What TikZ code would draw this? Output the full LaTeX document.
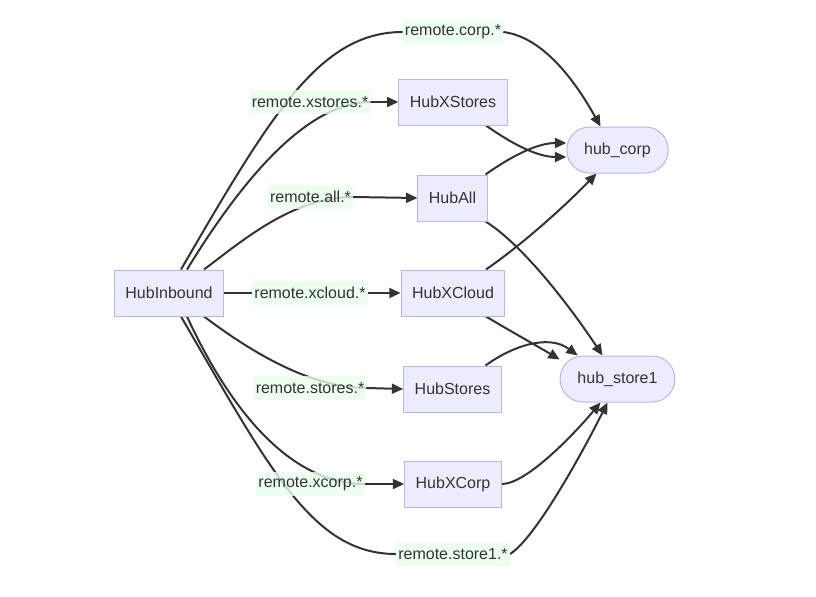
\documentclass[tikz,border=0pt]{standalone}
\usepackage{fontspec}
\setmainfont{Liberation Sans}
\usetikzlibrary{calc}
\usetikzlibrary{arrows.meta}
\definecolor{ink}{HTML}{333333}
\definecolor{boxfill}{HTML}{ECECFF}
\definecolor{boxline}{HTML}{BFB2EE}
\definecolor{labelfill}{HTML}{E8FFEE}
\pgfdeclarelayer{edges}
\pgfsetlayers{edges,main}

\begin{document}
\begin{tikzpicture}[x=0.75pt,y=-0.75pt,cap=round,>={Triangle[length=8.5pt,width=7.5pt]},
        font=\fontsize{12pt}{14.4pt}\selectfont,
        hub/.style={draw=boxline,fill=boxfill,text=ink,line width=0.75pt,minimum height=34.5pt,inner xsep=8.25pt},
        sink/.style={hub,rounded corners=17pt,inner xsep=13pt},
        route/.style={fill=labelfill,fill opacity=0.8,text opacity=1,text=ink,inner xsep=1.5pt,inner ysep=0pt,minimum height=18.5pt},
        link/.style={draw=ink,line width=1.5pt}]
        \useasboundingbox (0,0) rectangle (816,596);
        \node[hub] (in) at (169,293) {HubInbound};
        \node[hub] (xs) at (453,102) {HubXStores};
        \node[hub] (all) at (452.5,198) {HubAll};
        \node[hub] (xc) at (453,293) {HubXCloud};
        \node[hub] (st) at (452.5,389) {HubStores};
        \node[hub] (xcp) at (453,484) {HubXCorp};
        \node[sink] (corp) at (617.5,150) {hub\_corp};
        \node[sink] (s1) at (617.5,379) {hub\_store1};
        \node[route] (lcorp) at (453,32) {remote.corp.*};
        \node[route] (lxs) at (310,102) {remote.xstores.*};
        \node[route] (lall) at (310.5,197) {remote.all.*};
        \node[route] (lxc) at (310,293) {remote.xcloud.*};
        \node[route] (lst) at (310,388) {remote.stores.*};
        \node[route] (lxcp) at (310.5,484) {remote.xcorp.*};
        \node[route] (ls1) at (453,554) {remote.store1.*};
        \begin{pgfonlayer}{edges}
        \draw[link] ($(in.north)+(12,0)$) .. controls +(90,-155) and +(-83,0) .. (lcorp.west);
        \draw[link,->] (lcorp.east) .. controls +(40,5) and +(-25,-45) .. ($(corp.north)+(-17,0)$);
        \draw[link] ($(in.north)+(18,0)$) .. controls +(43,-70) and +(-71,0) .. (lxs.east);
        \draw[link,->] (lxs.east) -- (xs.west);
        \draw[link] ($(in.north)+(35,0)$) .. controls +(40,-30) and +(-60,0) .. (lall.east);
        \draw[link,->] (lall.east) -- (all.west);
        \draw[link] (in.east) -- (lxc.west);
        \draw[link,->] (lxc.east) -- (xc.west);
        \draw[link] ($(in.south)+(35,0)$) .. controls +(40,30) and +(-60,0) .. (lst.east);
        \draw[link,->] (lst.east) -- (st.west);
        \draw[link] ($(in.south)+(18,0)$) .. controls +(41,89) and +(-77,0) .. (lxcp.east);
        \draw[link,->] (lxcp.east) -- (xcp.west);
        \draw[link] ($(in.south)+(12,0)$) .. controls +(90,155) and +(-83,0) .. (ls1.west);
        \draw[link,->] (ls1.east) .. controls +(25,-15) and +(-25,50) .. ($(s1.south)+(-10,0)$);
        \draw[link,->] (xcp.east) .. controls +(25,0) and +(-25,30) .. ($(s1.south)+(-17,0)$);
        \draw[link,->] ($(xs.south)+(33,0)$) .. controls +(24,17) and +(-30,0) .. ($(corp.west)+(0,7)$);
        \draw[link,->] ($(all.north)+(33,0)$) .. controls +(24,-17) and +(-30,0) .. ($(corp.west)+(0,-7)$);
        \draw[link,->] ($(all.south)+(33,0)$) .. controls +(34,21) and +(-37,-56) .. ($(s1.north)+(-15,0)$);
        \draw[link,->] ($(xc.north)+(33,0)$) .. controls +(29,-20) and +(-41,42) .. ($(corp.south)+(-21,0)$);
        \draw[link,->] ($(xc.south)+(33,0)$) .. controls +(25,15) and +(-25,-15) .. ($(s1.north west)+(0,4)$);
        \draw[link,->] ($(st.north)+(33,0)$) .. controls +(29,-21) and +(-28,-21) .. ($(s1.north west)+(18,0)$);
        \end{pgfonlayer}
\end{tikzpicture}
\end{document}
